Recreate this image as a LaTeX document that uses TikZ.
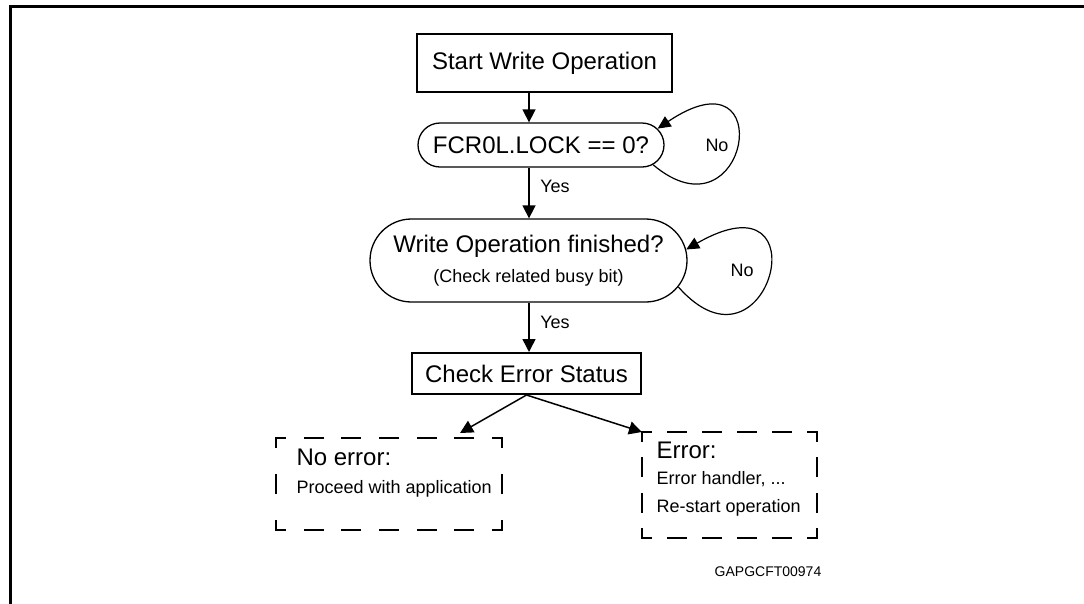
\documentclass[tikz,border=0pt]{standalone}
\usepackage{fontspec}
\setmainfont{Liberation Sans}
\usetikzlibrary{arrows.meta,shapes.misc}

\tikzset{
  big/.style={font=\fontsize{24}{28}\selectfont},
  small/.style={font=\fontsize{18}{22}\selectfont},
  plainbox/.style={draw, line width=2pt, inner sep=0pt, big},
  stadium/.style={draw, rounded rectangle, line width=1.3pt, inner sep=0pt, big},
  outline/.style={inner sep=0pt, outer sep=0pt},
  dashside/.style n args={3}{line width=2.2pt, line cap=rect, dash pattern=on #1pt off #2pt, dash phase=#3pt},
  flow/.style={line width=1.5pt, -{Triangle[length=13pt,width=13pt]}},
  loopback/.style={line width=1.2pt, -{Triangle[length=13pt,width=12pt]}},
}

\begin{document}
\begin{tikzpicture}[x=1pt,y=-1pt]
\useasboundingbox (0,0) rectangle (1084,603);
% frame of the figure
\draw[line width=3pt] (10,606) -- (10,6) -- (1087,6);

% steps
\coordinate (spine) at (529,0);
\node[plainbox, minimum width=255pt, minimum height=58pt] (start) at (544.5,63) {Start Write Operation};
\node[stadium, minimum width=246pt, minimum height=44pt] (lock) at (541,145) {FCR0L.LOCK == 0?};
\node[stadium, minimum width=317pt, minimum height=83pt, align=center] (busy) at (528.5,260.5)
  {Write Operation finished?\\[2pt]{\fontsize{18}{22}\selectfont (Check related busy bit)}};
\node[plainbox, minimum width=229pt, minimum height=41pt] (check) at (526.5,373.5) {Check Error Status};

% outcomes
\node[outline, minimum width=226pt, minimum height=92pt] (noerr) at (389,484) {};
\node[big, anchor=base west] (noerrhead) at ([xshift=17pt,yshift=-27pt]noerr.north west) {No error:};
\node[small, anchor=base west] (noerrtext) at ([yshift=-28pt]noerrhead.base west) {Proceed with application};
\node[outline, minimum width=175pt, minimum height=106pt] (err) at (729.5,485) {};
\node[big, anchor=base west] (errhead) at ([xshift=11pt,yshift=-26pt]err.north west) {Error:};
\node[small, anchor=base west] (errtext) at ([yshift=-26pt]errhead.base west) {Error handler, ...};
\node[small, anchor=base west] (errretry) at ([yshift=-28pt]errtext.base west) {Re-start operation};

% dashed sides, corners kept whole
\foreach \frm/\hon/\hoff/\von/\voff in {noerr/18/19.667/18/28, err/17/18/18/17.333}{
  \draw[dashside={\hon}{\hoff}{\hon/2}] (\frm.north west) -- (\frm.north east);
  \draw[dashside={\hon}{\hoff}{\hon/2}] (\frm.south west) -- (\frm.south east);
  \draw[dashside={\von}{\voff}{\von/2}] (\frm.north west) -- (\frm.south west);
  \draw[dashside={\von}{\voff}{\von/2}] (\frm.north east) -- (\frm.south east);
}

% labels
\node[small] (yes1) at (555,186) {Yes};
\node[small] (yes2) at (555,322) {Yes};
\node[small] (no1) at (717,145) {No};
\node[small] (no2) at (742,270) {No};
\node[font=\fontsize{14}{16}\selectfont] (figid) at (768,572) {GAPGCFT00974};

% connectors
\draw[flow] (start.south -| spine) -- (lock.north -| spine);
\draw[flow] (lock.south -| spine) -- (busy.north -| spine);
\draw[flow] (busy.south -| spine) -- (check.north -| spine);
\draw[flow] (check.south) -- ([xshift=-42pt,yshift=5pt]noerr.north east);
\draw[flow] (check.south) -- (err.north west);
\draw[loopback] (lock.-10) .. controls +(95,80) and +(123,-83) .. (lock.8);
\draw[loopback] (busy.-10) .. controls +(90,102) and +(139,-80) .. (busy.4);
\end{tikzpicture}
\end{document}
